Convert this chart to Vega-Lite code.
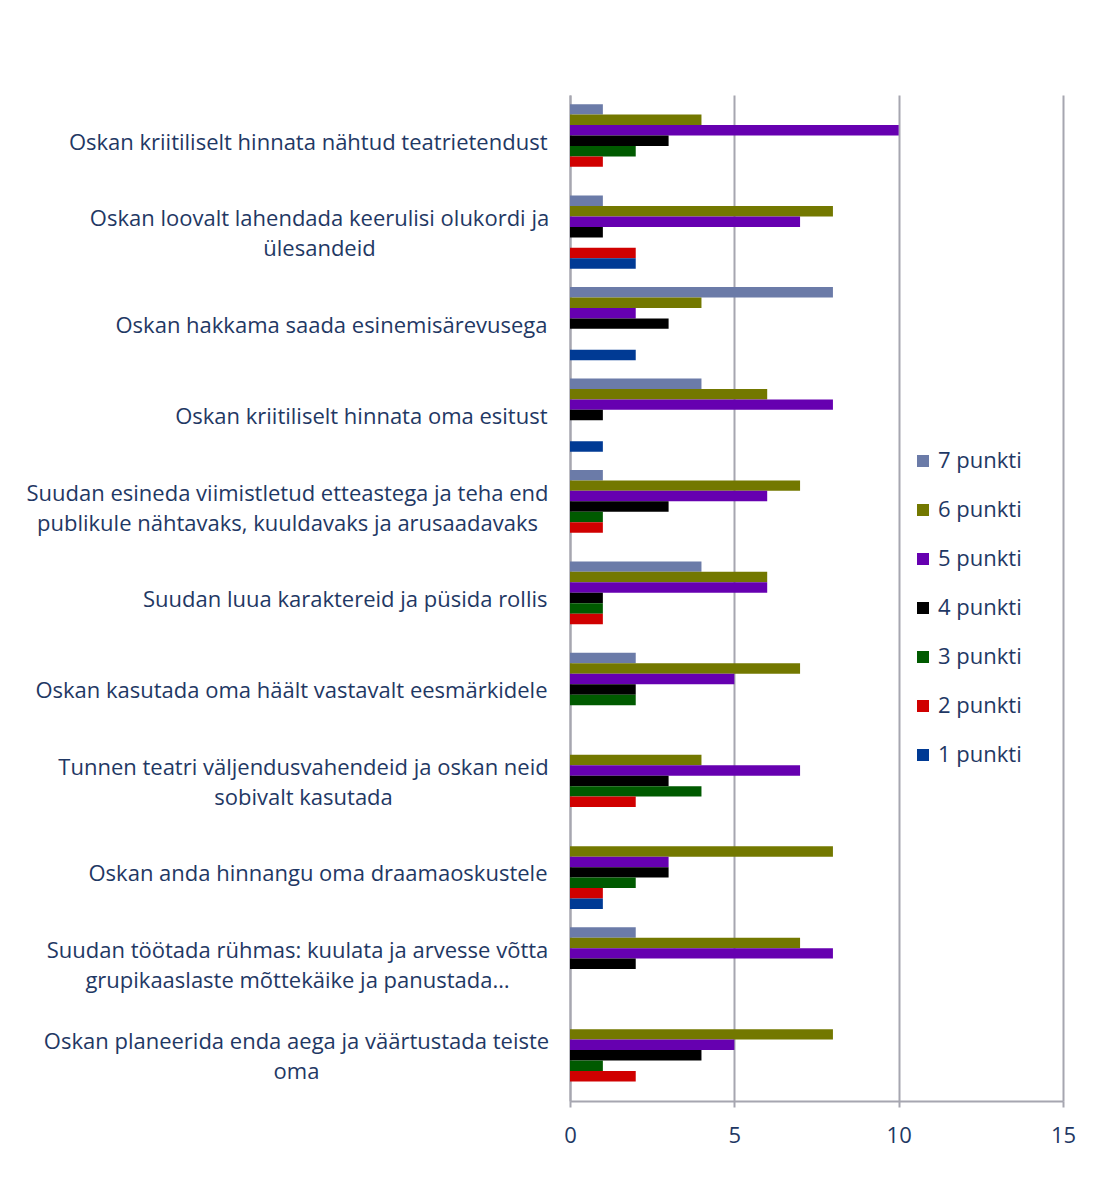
{
  "$schema": "https://vega.github.io/schema/vega-lite/v6.json",
  "width": 493,
  "height": 1006,
  "autosize": {"type": "none"},
  "padding": {"left": 570, "top": 95, "right": 41, "bottom": 95},
  "background": "white",
  "config": {"view": {"stroke": null}, "font": "Open Sans"},
  "data": {
    "values": [
      {"q": "Oskan kriitiliselt hinnata nähtud teatrietendust", "s": "7 punkti", "v": 1},
      {"q": "Oskan kriitiliselt hinnata nähtud teatrietendust", "s": "6 punkti", "v": 4},
      {"q": "Oskan kriitiliselt hinnata nähtud teatrietendust", "s": "5 punkti", "v": 10},
      {"q": "Oskan kriitiliselt hinnata nähtud teatrietendust", "s": "4 punkti", "v": 3},
      {"q": "Oskan kriitiliselt hinnata nähtud teatrietendust", "s": "3 punkti", "v": 2},
      {"q": "Oskan kriitiliselt hinnata nähtud teatrietendust", "s": "2 punkti", "v": 1},
      {"q": "Oskan kriitiliselt hinnata nähtud teatrietendust", "s": "1 punkti", "v": 0},
      {"q": "Oskan loovalt lahendada keerulisi olukordi ja|ülesandeid", "s": "7 punkti", "v": 1},
      {"q": "Oskan loovalt lahendada keerulisi olukordi ja|ülesandeid", "s": "6 punkti", "v": 8},
      {"q": "Oskan loovalt lahendada keerulisi olukordi ja|ülesandeid", "s": "5 punkti", "v": 7},
      {"q": "Oskan loovalt lahendada keerulisi olukordi ja|ülesandeid", "s": "4 punkti", "v": 1},
      {"q": "Oskan loovalt lahendada keerulisi olukordi ja|ülesandeid", "s": "3 punkti", "v": 0},
      {"q": "Oskan loovalt lahendada keerulisi olukordi ja|ülesandeid", "s": "2 punkti", "v": 2},
      {"q": "Oskan loovalt lahendada keerulisi olukordi ja|ülesandeid", "s": "1 punkti", "v": 2},
      {"q": "Oskan hakkama saada esinemisärevusega", "s": "7 punkti", "v": 8},
      {"q": "Oskan hakkama saada esinemisärevusega", "s": "6 punkti", "v": 4},
      {"q": "Oskan hakkama saada esinemisärevusega", "s": "5 punkti", "v": 2},
      {"q": "Oskan hakkama saada esinemisärevusega", "s": "4 punkti", "v": 3},
      {"q": "Oskan hakkama saada esinemisärevusega", "s": "3 punkti", "v": 0},
      {"q": "Oskan hakkama saada esinemisärevusega", "s": "2 punkti", "v": 0},
      {"q": "Oskan hakkama saada esinemisärevusega", "s": "1 punkti", "v": 2},
      {"q": "Oskan kriitiliselt hinnata oma esitust", "s": "7 punkti", "v": 4},
      {"q": "Oskan kriitiliselt hinnata oma esitust", "s": "6 punkti", "v": 6},
      {"q": "Oskan kriitiliselt hinnata oma esitust", "s": "5 punkti", "v": 8},
      {"q": "Oskan kriitiliselt hinnata oma esitust", "s": "4 punkti", "v": 1},
      {"q": "Oskan kriitiliselt hinnata oma esitust", "s": "3 punkti", "v": 0},
      {"q": "Oskan kriitiliselt hinnata oma esitust", "s": "2 punkti", "v": 0},
      {"q": "Oskan kriitiliselt hinnata oma esitust", "s": "1 punkti", "v": 1},
      {"q": "Suudan esineda viimistletud etteastega ja teha end|publikule nähtavaks, kuuldavaks ja arusaadavaks", "s": "7 punkti", "v": 1},
      {"q": "Suudan esineda viimistletud etteastega ja teha end|publikule nähtavaks, kuuldavaks ja arusaadavaks", "s": "6 punkti", "v": 7},
      {"q": "Suudan esineda viimistletud etteastega ja teha end|publikule nähtavaks, kuuldavaks ja arusaadavaks", "s": "5 punkti", "v": 6},
      {"q": "Suudan esineda viimistletud etteastega ja teha end|publikule nähtavaks, kuuldavaks ja arusaadavaks", "s": "4 punkti", "v": 3},
      {"q": "Suudan esineda viimistletud etteastega ja teha end|publikule nähtavaks, kuuldavaks ja arusaadavaks", "s": "3 punkti", "v": 1},
      {"q": "Suudan esineda viimistletud etteastega ja teha end|publikule nähtavaks, kuuldavaks ja arusaadavaks", "s": "2 punkti", "v": 1},
      {"q": "Suudan esineda viimistletud etteastega ja teha end|publikule nähtavaks, kuuldavaks ja arusaadavaks", "s": "1 punkti", "v": 0},
      {"q": "Suudan luua karaktereid ja püsida rollis", "s": "7 punkti", "v": 4},
      {"q": "Suudan luua karaktereid ja püsida rollis", "s": "6 punkti", "v": 6},
      {"q": "Suudan luua karaktereid ja püsida rollis", "s": "5 punkti", "v": 6},
      {"q": "Suudan luua karaktereid ja püsida rollis", "s": "4 punkti", "v": 1},
      {"q": "Suudan luua karaktereid ja püsida rollis", "s": "3 punkti", "v": 1},
      {"q": "Suudan luua karaktereid ja püsida rollis", "s": "2 punkti", "v": 1},
      {"q": "Suudan luua karaktereid ja püsida rollis", "s": "1 punkti", "v": 0},
      {"q": "Oskan kasutada oma häält vastavalt eesmärkidele", "s": "7 punkti", "v": 2},
      {"q": "Oskan kasutada oma häält vastavalt eesmärkidele", "s": "6 punkti", "v": 7},
      {"q": "Oskan kasutada oma häält vastavalt eesmärkidele", "s": "5 punkti", "v": 5},
      {"q": "Oskan kasutada oma häält vastavalt eesmärkidele", "s": "4 punkti", "v": 2},
      {"q": "Oskan kasutada oma häält vastavalt eesmärkidele", "s": "3 punkti", "v": 2},
      {"q": "Oskan kasutada oma häält vastavalt eesmärkidele", "s": "2 punkti", "v": 0},
      {"q": "Oskan kasutada oma häält vastavalt eesmärkidele", "s": "1 punkti", "v": 0},
      {"q": "Tunnen teatri väljendusvahendeid ja oskan neid|sobivalt kasutada", "s": "7 punkti", "v": 0},
      {"q": "Tunnen teatri väljendusvahendeid ja oskan neid|sobivalt kasutada", "s": "6 punkti", "v": 4},
      {"q": "Tunnen teatri väljendusvahendeid ja oskan neid|sobivalt kasutada", "s": "5 punkti", "v": 7},
      {"q": "Tunnen teatri väljendusvahendeid ja oskan neid|sobivalt kasutada", "s": "4 punkti", "v": 3},
      {"q": "Tunnen teatri väljendusvahendeid ja oskan neid|sobivalt kasutada", "s": "3 punkti", "v": 4},
      {"q": "Tunnen teatri väljendusvahendeid ja oskan neid|sobivalt kasutada", "s": "2 punkti", "v": 2},
      {"q": "Tunnen teatri väljendusvahendeid ja oskan neid|sobivalt kasutada", "s": "1 punkti", "v": 0},
      {"q": "Oskan anda hinnangu oma draamaoskustele", "s": "7 punkti", "v": 0},
      {"q": "Oskan anda hinnangu oma draamaoskustele", "s": "6 punkti", "v": 8},
      {"q": "Oskan anda hinnangu oma draamaoskustele", "s": "5 punkti", "v": 3},
      {"q": "Oskan anda hinnangu oma draamaoskustele", "s": "4 punkti", "v": 3},
      {"q": "Oskan anda hinnangu oma draamaoskustele", "s": "3 punkti", "v": 2},
      {"q": "Oskan anda hinnangu oma draamaoskustele", "s": "2 punkti", "v": 1},
      {"q": "Oskan anda hinnangu oma draamaoskustele", "s": "1 punkti", "v": 1},
      {"q": "Suudan töötada rühmas: kuulata ja arvesse võtta|grupikaaslaste mõttekäike ja panustada…", "s": "7 punkti", "v": 2},
      {"q": "Suudan töötada rühmas: kuulata ja arvesse võtta|grupikaaslaste mõttekäike ja panustada…", "s": "6 punkti", "v": 7},
      {"q": "Suudan töötada rühmas: kuulata ja arvesse võtta|grupikaaslaste mõttekäike ja panustada…", "s": "5 punkti", "v": 8},
      {"q": "Suudan töötada rühmas: kuulata ja arvesse võtta|grupikaaslaste mõttekäike ja panustada…", "s": "4 punkti", "v": 2},
      {"q": "Suudan töötada rühmas: kuulata ja arvesse võtta|grupikaaslaste mõttekäike ja panustada…", "s": "3 punkti", "v": 0},
      {"q": "Suudan töötada rühmas: kuulata ja arvesse võtta|grupikaaslaste mõttekäike ja panustada…", "s": "2 punkti", "v": 0},
      {"q": "Suudan töötada rühmas: kuulata ja arvesse võtta|grupikaaslaste mõttekäike ja panustada…", "s": "1 punkti", "v": 0},
      {"q": "Oskan planeerida enda aega ja väärtustada teiste|oma", "s": "7 punkti", "v": 0},
      {"q": "Oskan planeerida enda aega ja väärtustada teiste|oma", "s": "6 punkti", "v": 8},
      {"q": "Oskan planeerida enda aega ja väärtustada teiste|oma", "s": "5 punkti", "v": 5},
      {"q": "Oskan planeerida enda aega ja väärtustada teiste|oma", "s": "4 punkti", "v": 4},
      {"q": "Oskan planeerida enda aega ja väärtustada teiste|oma", "s": "3 punkti", "v": 1},
      {"q": "Oskan planeerida enda aega ja väärtustada teiste|oma", "s": "2 punkti", "v": 2},
      {"q": "Oskan planeerida enda aega ja väärtustada teiste|oma", "s": "1 punkti", "v": 0}
    ]
  },
  "mark": {"type": "bar"},
  "encoding": {
    "y": {
      "field": "q", "type": "nominal", "sort": null,
      "scale": {"paddingInner": 0.2, "paddingOuter": 0.1},
      "axis": {
        "title": null,
        "labelExpr": "split(datum.value, '|')",
        "labelFontSize": 22,
        "labelColor": "#1F3864",
        "labelLimit": 0,
        "labelLineHeight": 30,
        "labelAlign": {"condition": {"test": "indexof(datum.value, '|') >= 0", "value": "center"}, "value": "right"},
        "labelOffset": {"condition": {"test": "indexof(datum.value, '|') >= 0", "value": -13}, "value": 2},
        "labelPadding": {
          "condition": [
            {"test": "indexof(datum.value, 'loovalt') >= 0", "value": 251},
            {"test": "indexof(datum.value, 'esineda') >= 0", "value": 283},
            {"test": "indexof(datum.value, 'Tunnen') >= 0", "value": 267},
            {"test": "indexof(datum.value, 'rühmas') >= 0", "value": 273},
            {"test": "indexof(datum.value, 'planeerida') >= 0", "value": 274}
          ],
          "value": 23
        },
        "ticks": false,
        "domainColor": "#A6A6B0",
        "domainWidth": 2
      }
    },
    "yOffset": {"field": "s", "type": "nominal", "sort": "descending"},
    "x": {
      "field": "v", "type": "quantitative",
      "scale": {"domain": [0, 15], "nice": false},
      "axis": {
        "title": null,
        "values": [0, 5, 10, 15],
        "grid": true,
        "gridColor": "#A6A6B0",
        "gridWidth": 2,
        "domainColor": "#A6A6B0",
        "domainWidth": 2,
        "tickColor": "#A6A6B0",
        "tickWidth": 2,
        "tickSize": 6,
        "labelFlush": false,
        "labelFontSize": 22,
        "labelColor": "#1F3864",
        "labelPadding": 18
      }
    },
    "color": {
      "field": "s", "type": "nominal",
      "scale": {
        "domain": ["7 punkti", "6 punkti", "5 punkti", "4 punkti", "3 punkti", "2 punkti", "1 punkti"],
        "range": ["#6B7BA8", "#737800", "#6600B0", "#000000", "#005A00", "#D00000", "#003A94"]
      },
      "legend": {
        "title": null,
        "orient": "none",
        "legendX": 342,
        "legendY": 355,
        "symbolType": "square",
        "symbolSize": 144,
        "symbolStrokeWidth": 0,
        "labelFontSize": 22,
        "labelColor": "#1F3864",
        "labelOffset": 4,
        "rowPadding": 27
      }
    }
  }
}
